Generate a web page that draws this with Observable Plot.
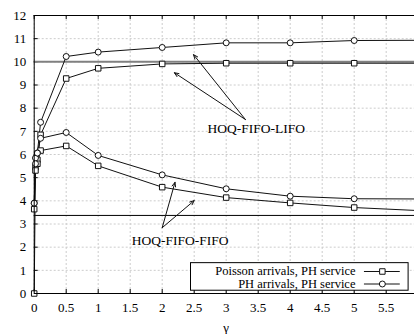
<!DOCTYPE html>
<html>
<head>
<meta charset="utf-8">
<script src="https://cdn.jsdelivr.net/npm/d3@7"></script>
<script src="https://cdn.jsdelivr.net/npm/@observablehq/plot@0.6"></script>
<style>
html, body { margin: 0; padding: 0; background: white; overflow: hidden; width: 414px; height: 334px; }
</style>
</head>
<body>
<div id="chart"></div>
<script>
// ---- data ----
const gammas = [0, 0.02, 0.05, 0.1, 0.5, 1, 2, 3, 4, 5, 6];
const lifoPoisson = [0, 5.45, 5.77, 6.85, 9.28, 9.72, 9.91, 9.94, 9.94, 9.94, 9.94];
const lifoPH      = [3.9, 5.85, 6.07, 7.39, 10.23, 10.42, 10.62, 10.82, 10.82, 10.92, 10.93];
const fifoPoisson = [3.64, 5.31, 5.6, 6.17, 6.37, 5.51, 4.59, 4.14, 3.91, 3.71, 3.58];
const fifoPH      = [3.9, 5.6, 6.06, 6.7, 6.95, 5.96, 5.12, 4.52, 4.20, 4.09, 4.08];
const refLines = [10, 3.37];
const xTicks = [0, 0.5, 1, 1.5, 2, 2.5, 3, 3.5, 4, 4.5, 5, 5.5, 6];
const yTicks = [0, 1, 2, 3, 4, 5, 6, 7, 8, 9, 10, 11, 12];
const legendLabels = ["Poisson arrivals, PH service", "PH arrivals, PH service"];
const legendSymbols = ["square", "circle"];
// annotations (data coordinates)
const annLabels = ["HOQ-FIFO-LIFO", "HOQ-FIFO-FIFO"];
const annText = [[3.47, 7.1], [2.28, 2.26]];
const annArrows = [
  [3.30, 7.51, 2.19, 9.53],
  [3.30, 7.51, 2.49, 10.31],
  [2.00, 2.84, 2.20, 4.80],
  [2.00, 2.84, 2.50, 4.01]
];
const legendBox = [2.45, 0.12, 5.85, 1.31];
const legendRowsY = [0.95, 0.41];
const legendTextX = 5.02;
const legendLineX = [5.16, 5.72];
const legendMarkX = 5.44;

// ---- build table ----
const series = [
  {name: "lifoPoisson", vals: lifoPoisson, symbol: "square"},
  {name: "lifoPH", vals: lifoPH, symbol: "circle"},
  {name: "fifoPoisson", vals: fifoPoisson, symbol: "square"},
  {name: "fifoPH", vals: fifoPH, symbol: "circle"}
];
const rows = series.flatMap(s => gammas.map((g, i) => ({x: g, y: s.vals[i], series: s.name, symbol: s.symbol})));

const W = 414, H = 334;
const mL = 33.7, mT = 15, mB = 41, mR = -3.7;
const tickLenY = 4 * 12 / (H - mT - mB);
const tickLenX = 4 * 6 / (W - mL - mR);
const FONT = "'Liberation Serif', 'Times New Roman', serif";

const legendRows = legendLabels.map((l, i) => ({label: l, y: legendRowsY[i], symbol: legendSymbols[i]}));

const plot = Plot.plot({
  width: W, height: H,
  marginLeft: mL, marginTop: mT, marginBottom: mB, marginRight: mR,
  x: {domain: [0, 6]},
  y: {domain: [0, 12]},
  style: {fontFamily: FONT, fontSize: "13px", background: "white", color: "black"},
  marks: [
    Plot.gridX(xTicks, {stroke: "#cccccc", strokeOpacity: 1, strokeDasharray: "2,2"}),
    Plot.gridY(yTicks, {stroke: "#cccccc", strokeOpacity: 1, strokeDasharray: "2,2"}),
    Plot.axisX(xTicks, {tickSize: 0, tickPadding: 9, tickFormat: d => String(d), fontSize: 13, fontFamily: FONT, label: "γ", labelAnchor: "center", labelArrow: "none", labelOffset: 38}),
    Plot.axisY(yTicks, {tickSize: 0, tickPadding: 8, tickFormat: d => String(d), fontSize: 13, fontFamily: FONT, label: null}),
    // inward ticks
    Plot.ruleX(xTicks, {x: d => d, y1: 0, y2: tickLenY, stroke: "black"}),
    Plot.ruleX(xTicks, {x: d => d, y1: 12 - tickLenY, y2: 12, stroke: "black"}),
    Plot.ruleY(yTicks, {y: d => d, x1: 0, x2: tickLenX, stroke: "black"}),
    // reference lines
    Plot.ruleY([refLines[0]], {stroke: "#808080", strokeWidth: 2}),
    Plot.ruleY([refLines[1]], {stroke: "black", strokeWidth: 1}),
    // series
    Plot.line(rows, {x: "x", y: "y", z: "series", stroke: "#111", strokeWidth: 1}),
    Plot.dot(rows, {x: "x", y: "y", symbol: "symbol", r: d => d.symbol === "square" ? 2.8 : 2.6, fill: "white", stroke: "#111", strokeWidth: 1}),
    // annotations
    Plot.arrow(annArrows, {x1: d => d[0], y1: d => d[1], x2: d => d[2], y2: d => d[3], stroke: "#111", strokeWidth: 1, headLength: 7, headAngle: 45, insetStart: 0, insetEnd: 0}),
    Plot.text(annLabels, {x: (d, i) => annText[i][0], y: (d, i) => annText[i][1], text: d => d, fontSize: 13.5, fontFamily: FONT, fill: "black", lineAnchor: "middle", textAnchor: "middle"}),
    // legend
    Plot.rect([legendBox], {x1: d => d[0], y1: d => d[1], x2: d => d[2], y2: d => d[3], fill: "white", stroke: "black", strokeWidth: 1}),
    Plot.text(legendRows, {x: legendTextX, y: "y", text: "label", textAnchor: "end", lineAnchor: "middle", fontSize: 12.5, fontFamily: FONT, fill: "black"}),
    Plot.ruleY(legendRows, {y: "y", x1: legendLineX[0], x2: legendLineX[1], stroke: "#111", strokeWidth: 1}),
    Plot.dot(legendRows, {x: legendMarkX, y: "y", symbol: "symbol", r: d => d.symbol === "square" ? 2.8 : 2.6, fill: "white", stroke: "#111", strokeWidth: 1}),
    Plot.frame({stroke: "black", strokeWidth: 1})
  ],
  symbol: {type: "identity"}
});
document.getElementById("chart").appendChild(plot);
</script>
</body>
</html>
